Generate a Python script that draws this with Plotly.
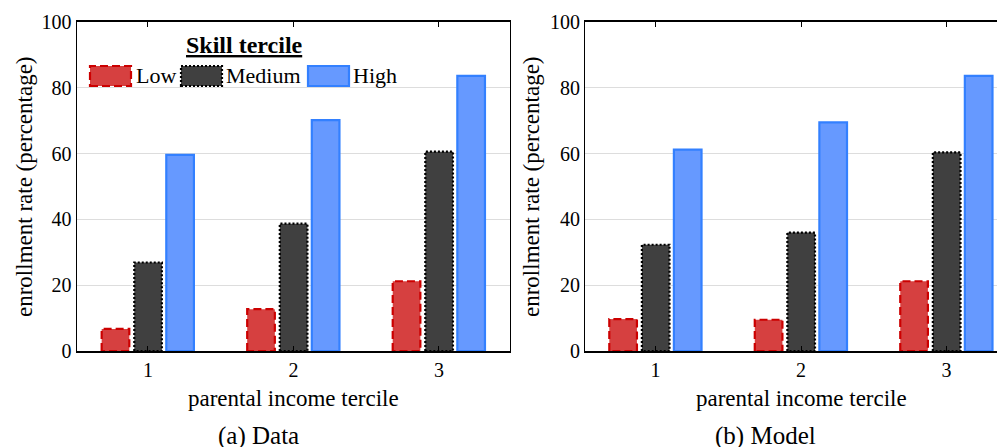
import plotly.graph_objects as go

W, H = 1005, 447
OFF = 8  # page margin around the figure in the browser

income_terciles = [1, 2, 3]
series_names = ["Low", "Medium", "High"]

data_low = [6.7, 12.7, 21.2]
data_medium = [26.9, 38.7, 60.6]
data_high = [59.6, 70.2, 83.6]

model_low = [9.7, 9.5, 21.2]
model_medium = [32.3, 36.0, 60.4]
model_high = [61.2, 69.5, 83.6]

x_tick_labels = ["1", "2", "3"]
y_tick_values = [0, 20, 40, 60, 80, 100]

FONT = "Liberation Serif"

styles = {
    "Low": dict(fill="rgba(214,64,64,1)", line="#cc0000", dash="8px,4px", off=-0.318),
    "Medium": dict(fill="#404040", line="#000000", dash="2px,2px", off=-0.094),
    "High": dict(fill="#6699ff", line="#3380ff", dash="solid", off=0.126),
}
BW = 0.19

fig = go.Figure()


def add_panel(values, xa, ya):
    for name, vals in zip(series_names, values):
        st = styles[name]
        fig.add_trace(go.Bar(
            x=income_terciles, y=vals, width=BW, offset=st["off"],
            marker=dict(color=st["fill"], line=dict(width=0)),
            xaxis=xa, yaxis=ya, showlegend=False, name=name,
        ))
        xs, ys = [], []
        for c, v in zip(income_terciles, vals):
            x0, x1 = c + st["off"], c + st["off"] + BW
            xs += [x0, x0, x1, x1, x0, None]
            ys += [0, v, v, 0, 0, None]
        fig.add_trace(go.Scatter(
            x=xs, y=ys, mode="lines", xaxis=xa, yaxis=ya, showlegend=False,
            line=dict(color=st["line"], width=2.2, dash=st["dash"]),
            hoverinfo="skip", cliponaxis=False,
        ))


add_panel([data_low, data_medium, data_high], "x", "y")
add_panel([model_low, model_medium, model_high], "x2", "y2")


def fx(x):
    return (x - OFF) / W


def fy(y):
    return 1 - (y - OFF) / H


ydom = [fy(351), fy(22)]
common_x = dict(
    tickvals=income_terciles, ticktext=x_tick_labels, ticks="inside", ticklen=5,
    tickcolor="black", showline=True, linecolor="black", linewidth=1.5,
    mirror="ticks", showgrid=False, zeroline=False, automargin=False,
    tickfont=dict(family=FONT, size=20, color="black"),
)
common_y = dict(
    range=[0, 100], tickvals=y_tick_values, ticks="", showline=True,
    linecolor="black", linewidth=1.2, showgrid=True, gridcolor="#dddddd",
    gridwidth=1, zeroline=False, automargin=False,
    tickfont=dict(family=FONT, size=20, color="black"),
)

fig.update_layout(
    width=W, height=H, autosize=False, margin=dict(l=0, r=0, t=0, b=0, pad=0),
    paper_bgcolor="white", plot_bgcolor="white", barmode="overlay", showlegend=False,
    xaxis=dict(domain=[fx(76.5), fx(510)], range=[0.509, 3.488], anchor="y", **common_x),
    yaxis=dict(domain=ydom, anchor="x", mirror=True, **common_y),
    xaxis2=dict(domain=[fx(585), fx(1005)], range=[0.515, 3.402], anchor="y2", **common_x),
    yaxis2=dict(domain=ydom, anchor="x2", mirror=False, **common_y),
    font=dict(family=FONT, color="black"),
)


def note(x, y, text, size, **kw):
    d = dict(x=fx(x), y=fy(y), text=text, showarrow=False, xref="paper", yref="paper",
             xanchor="center", yanchor="middle", font=dict(size=size, family=FONT, color="black"))
    d.update(kw)
    return d


ann = []
for cx in (293, 801):
    ann.append(note(cx, 398, "parental income tercile", 23))
for cx in (24, 531):
    ann.append(note(cx, 187, "enrollment rate (percentage)", 23, textangle=-90))
ann.append(note(258, 436, "(a) Data", 25))
ann.append(note(765, 436, "(b) Model", 25))
ann.append(note(244, 45, "<b><u>Skill tercile</u></b>", 24))

shapes = []
legend_items = [("Low", 90, 131, 134), ("Medium", 181, 222, 224), ("High", 308, 349, 351)]
for name, x0, x1, tx in legend_items:
    st = styles[name]
    shapes.append(dict(type="rect", xref="paper", yref="paper", x0=fx(x0), x1=fx(x1),
                       y0=fy(86), y1=fy(66), fillcolor=st["fill"],
                       line=dict(color=st["line"], width=2.2, dash=st["dash"])))
    ann.append(note(tx, 76, name, 22, xanchor="left"))

fig.update_layout(annotations=ann, shapes=shapes)
fig.write_html("out.html")
